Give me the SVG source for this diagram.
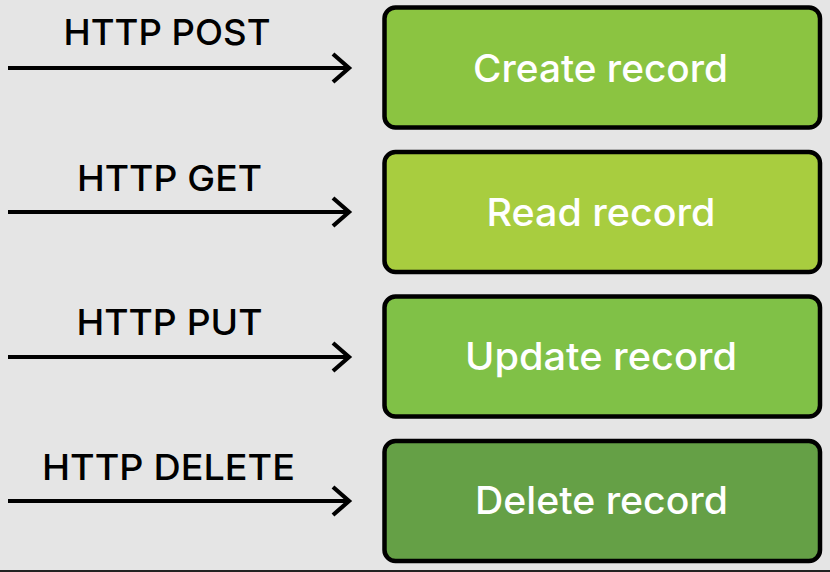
<svg xmlns="http://www.w3.org/2000/svg" width="830" height="572" viewBox="0 0 830 572">
<defs>
<marker id="chev" markerUnits="userSpaceOnUse" markerWidth="40" markerHeight="40" viewBox="-20 -20 40 40" refX="0" refY="0" orient="auto" overflow="visible">
<path d="M-16,-14 L0,0 L-16,14" fill="none" stroke="#000" stroke-width="4.2" stroke-linecap="butt" stroke-linejoin="miter"/>
</marker>
<style>
.bg{fill:#e5e5e5}
.box{stroke:#000;stroke-width:4.5}
.lbl{font-family:Inter,"Open Sans","Liberation Sans",sans-serif;font-weight:500;font-size:36px;fill:#000;text-anchor:middle}
.btx{font-family:Inter,"Open Sans","Liberation Sans",sans-serif;font-weight:500;font-size:38px;fill:#fff;text-anchor:middle}
.arr{stroke:#000;stroke-width:4.2;fill:none;marker-end:url(#chev)}
</style>
</defs>
<rect class="bg" x="0" y="0" width="830" height="572"/>
<rect x="0" y="570" width="830" height="2" fill="#222"/>
<g id="connectors">
<line class="arr" x1="8" y1="68" x2="349" y2="68"/>
<line class="arr" x1="8" y1="212" x2="349" y2="212"/>
<line class="arr" x1="8" y1="357" x2="349" y2="357"/>
<line class="arr" x1="8" y1="501" x2="349" y2="501"/>
</g>
<g id="label-post"><text class="lbl" x="167" y="45" textLength="207" lengthAdjust="spacingAndGlyphs">HTTP POST</text></g>
<g id="label-get"><text class="lbl" x="169.5" y="191" textLength="185" lengthAdjust="spacingAndGlyphs">HTTP GET</text></g>
<g id="label-put"><text class="lbl" x="169.5" y="335" textLength="186" lengthAdjust="spacingAndGlyphs">HTTP PUT</text></g>
<g id="label-delete"><text class="lbl" x="168.5" y="479.5" textLength="253" lengthAdjust="spacingAndGlyphs">HTTP DELETE</text></g>
<g id="create">
<rect class="box" x="384.5" y="7.5" width="435.5" height="120" rx="11" fill="#8bc441"/>
<text class="btx" x="600.5" y="82" textLength="255" lengthAdjust="spacingAndGlyphs">Create record</text>
</g>
<g id="read">
<rect class="box" x="384.5" y="152" width="435.5" height="120" rx="11" fill="#a8cd3f"/>
<text class="btx" x="601" y="226" textLength="229" lengthAdjust="spacingAndGlyphs">Read record</text>
</g>
<g id="update">
<rect class="box" x="384.5" y="296.5" width="435.5" height="120" rx="11" fill="#80c147"/>
<text class="btx" x="601" y="370" textLength="272" lengthAdjust="spacingAndGlyphs">Update record</text>
</g>
<g id="delete">
<rect class="box" x="384.5" y="441" width="435.5" height="120" rx="11" fill="#65a046"/>
<text class="btx" x="601.5" y="514" textLength="253" lengthAdjust="spacingAndGlyphs">Delete record</text>
</g>
</svg>
